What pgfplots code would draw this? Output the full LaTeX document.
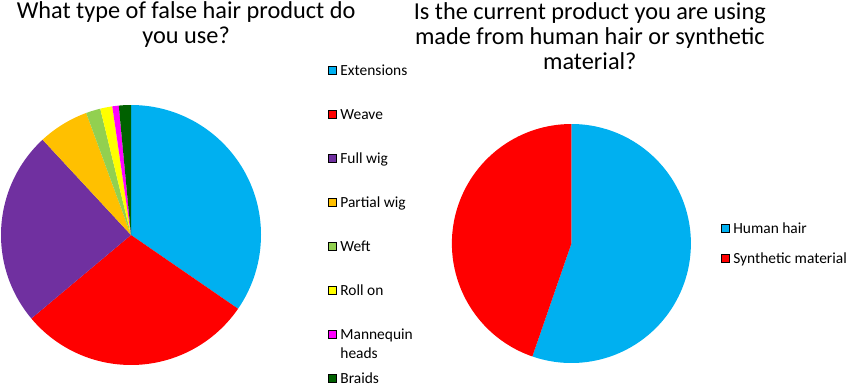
\documentclass[border=0pt]{standalone}
\usepackage{pgfplots}
\pgfplotsset{compat=1.18}
\usepackage{pgfplotstable}
\usepackage{fontspec}
\setmainfont{Carlito}

\definecolor{cExt}{HTML}{00B0F0}
\definecolor{cWeave}{HTML}{FF0000}
\definecolor{cFull}{HTML}{7030A0}
\definecolor{cPart}{HTML}{FFC000}
\definecolor{cWeft}{HTML}{92D050}
\definecolor{cRoll}{HTML}{FFFF00}
\definecolor{cMann}{HTML}{FF00FF}
\definecolor{cBraid}{HTML}{006100}

% percentages
\pgfplotstableread[col sep=comma]{
name,value,color
Extensions,34.6,cExt
Weave,29.3,cWeave
Full wig,24.2,cFull
Partial wig,6.3,cPart
Weft,1.8,cWeft
Roll on,1.5,cRoll
Mannequin heads,0.8,cMann
Braids,1.5,cBraid
}\typetable

\pgfplotstableread[col sep=comma]{
name,value,color
Human hair,55.3,cExt
Synthetic material,44.7,cWeave
}\materialtable

\newcommand{\pieslices}[2]{%
  \pgfplotstablegetrowsof{#1}%
  \pgfmathtruncatemacro\nrows{\pgfplotsretval-1}%
  \gdef\cumangle{90}%
  \pgfplotsforeachungrouped \i in {0,...,\nrows}{%
    \pgfplotstablegetelem{\i}{value}\of{#1}\let\val\pgfplotsretval
    \pgfplotstablegetelem{\i}{color}\of{#1}\let\col\pgfplotsretval
    \pgfmathsetmacro\endangle{\cumangle-3.6*\val}%
    \pgfmathsetmacro\sx{cos(\cumangle)}%
    \pgfmathsetmacro\sy{sin(\cumangle)}%
    \edef\temp{\noexpand\fill[\col, draw=none] (axis cs:0,0) -- (axis cs:\sx,\sy) arc[start angle=\cumangle, end angle=\endangle, radius=#2] -- cycle;}%
    \temp
    \global\let\cumangle\endangle
  }%
}

\pgfplotsset{
  pieaxis/.style={
    hide axis, anchor=origin,
    xmin=-1, xmax=1, ymin=-1, ymax=1,
    clip=false,
    title style={align=center, font=\fontsize{24.4}{25.3}\selectfont, anchor=north, inner sep=0pt},
    legend image code/.code={\fill[##1] (0bp,-4bp) rectangle (8bp,4bp);},
    legend cell align=left,
    legend style={draw=none, fill=none, inner sep=0pt, outer sep=0pt,
      anchor=north west, column sep=4bp,
      font=\fontsize{15.5}{18.3}\selectfont,
      nodes={inner sep=0pt, outer sep=0pt}},
  },
}

\begin{document}
\begin{tikzpicture}
\path[use as bounding box] (0,0) rectangle (850bp,-387bp);

\begin{axis}[pieaxis, at={(131bp,-235bp)}, x=130bp, y=130bp,
  title={What type of false hair product do\\you use?},
  title style={at={(axis description cs:0.712,1.376)}},
  legend style={at={(axis description cs:1.2577,1.1628)}, row sep=29.8bp},
]
\pieslices{\typetable}{130bp}
\addlegendimage{fill=cExt}\addlegendentry{\strut Extensions}
\addlegendimage{fill=cWeave}\addlegendentry{\strut Weave}
\addlegendimage{fill=cFull}\addlegendentry{\strut Full wig}
\addlegendimage{fill=cPart}\addlegendentry{\strut Partial wig}
\addlegendimage{fill=cWeft}\addlegendentry{\strut Weft}
\addlegendimage{fill=cRoll}\addlegendentry{\strut Roll on}
\addlegendimage{fill=cMann}\addlegendentry{\strut\smash{\vtop{\hbox{Mannequin}\hbox{heads}}}}
\addlegendimage{fill=cBraid}\addlegendentry{\strut Braids}
\end{axis}

\begin{axis}[pieaxis, at={(571.4bp,-243.5bp)}, x=119.5bp, y=119.5bp,
  title={Is the current product you are using\\made from human hair or synthetic\\material?},
  title style={at={(axis description cs:0.577,1.484)}},
  legend style={at={(axis description cs:1.1255,0.5954)}, row sep=15.7bp},
]
\pieslices{\materialtable}{119.5bp}
\addlegendimage{fill=cExt}\addlegendentry{\strut Human hair}
\addlegendimage{fill=cWeave}\addlegendentry{\strut Synthetic material}
\end{axis}
\end{tikzpicture}
\end{document}
